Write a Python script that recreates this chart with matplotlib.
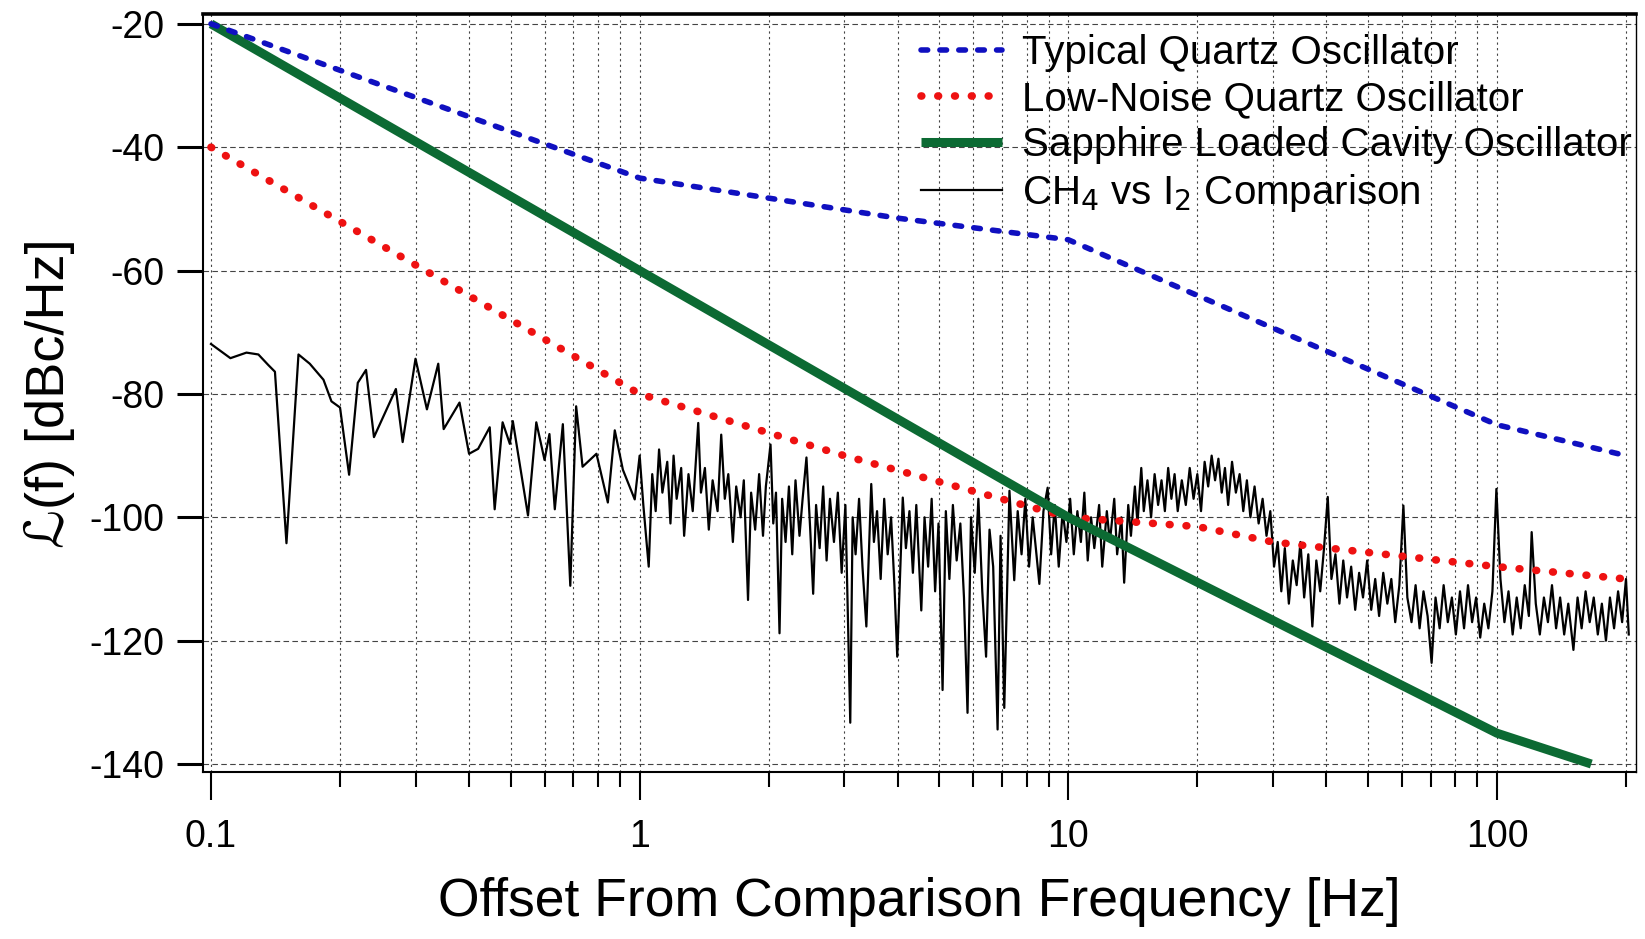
import numpy as np
import matplotlib.pyplot as plt
from matplotlib.ticker import FixedLocator, NullFormatter

plt.rcParams['font.family'] = ['Liberation Sans', 'DejaVu Sans']
plt.rcParams['axes.unicode_minus'] = False

# curvas modelo
f_quartz = [0.1, 1, 4, 10, 100, 200]
L_quartz = [-20, -45, -51.5, -55, -85, -90]
f_lownoise = [0.1, 1, 3, 10, 20, 30, 100, 200]
L_lownoise = [-40, -80, -90, -100, -101.5, -104, -108, -110]
f_sapphire = [0.1, 1, 10, 100, 166]
L_sapphire = [-20, -60, -100, -135, -140]

# CH4 vs I2, 0.1 - 1 Hz
f_ch4_a = [0.100, 0.111, 0.121, 0.129, 0.136, 0.141, 0.150, 0.160, 0.170, 0.183,
           0.191, 0.200, 0.210, 0.220, 0.230, 0.240, 0.270, 0.280, 0.300, 0.319,
           0.339, 0.349, 0.380, 0.400, 0.420, 0.447, 0.459, 0.479, 0.498, 0.506,
           0.549, 0.574, 0.600, 0.616, 0.634, 0.662, 0.689, 0.711, 0.736, 0.793,
           0.843, 0.875, 0.914, 0.974]
L_ch4_a = [-71.9, -74.2, -73.3, -73.6, -75.3, -76.4, -104.2, -73.6, -75.1, -77.7,
           -81.2, -82.2, -93.1, -78.2, -76.1, -87.0, -79.2, -87.8, -74.3, -82.5,
           -75.1, -85.7, -81.4, -89.7, -88.9, -85.4, -98.7, -84.6, -88.1, -84.4,
           -99.7, -84.6, -90.7, -86.5, -98.7, -84.9, -111.1, -82.0, -91.8, -89.7,
           -97.6, -85.9, -92.3, -97.1]

# 1 - 10 Hz
f_ch4_b = [1.00, 1.02, 1.05, 1.07, 1.09, 1.11, 1.13, 1.16, 1.18, 1.20,
           1.22, 1.25, 1.27, 1.30, 1.33, 1.37, 1.39, 1.42, 1.45, 1.48,
           1.52, 1.55, 1.58, 1.61, 1.65, 1.68, 1.72, 1.75, 1.79, 1.82,
           1.86, 1.90, 1.94, 1.97, 2.02, 2.05, 2.08, 2.12, 2.15, 2.19,
           2.23, 2.27, 2.31, 2.36, 2.40, 2.45, 2.50, 2.54, 2.58, 2.63,
           2.68, 2.73, 2.78, 2.84, 2.90, 2.96, 3.02, 3.10, 3.14, 3.19,
           3.25, 3.31, 3.38, 3.47, 3.52, 3.58, 3.65, 3.72, 3.79, 3.86,
           3.93, 3.99, 4.11, 4.18, 4.26, 4.34, 4.42, 4.54, 4.62, 4.71,
           4.80, 4.89, 4.98, 5.09, 5.18, 5.28, 5.38, 5.49, 5.60, 5.71,
           5.82, 5.93, 6.05, 6.17, 6.30, 6.43, 6.55, 6.68, 6.84, 6.95,
           7.09, 7.29, 7.48, 7.62, 7.78, 7.94, 8.10, 8.26, 8.40, 8.56,
           8.75, 8.95, 9.12, 9.30, 9.50, 9.70, 9.90]
L_ch4_b = [-90, -98, -108, -93, -99, -89, -96, -91, -101, -90,
           -97, -92, -103, -93, -99, -84.7, -96, -92, -102, -94,
           -99, -86.6, -97, -93, -104, -95, -100, -94, -113.4, -96,
           -102, -93, -103, -95, -88.2, -101, -96, -118.8, -97, -104,
           -95, -106, -94, -103, -97, -90.3, -102, -112.4, -98, -105,
           -95, -107, -97, -104, -96, -109, -98, -133.3, -100, -106,
           -97, -108, -117.7, -94.6, -104, -99, -110, -97, -106, -100,
           -111, -122.6, -96.8, -105, -99, -109, -98, -115.1, -100, -108,
           -97, -112, -101, -128, -99, -110, -98, -107, -101, -113,
           -131.7, -100, -109, -97, -112, -122.6, -102, -108, -134.4, -103,
           -130.9, -95.7, -110.2, -99, -106, -97, -108, -100, -105, -110.8,
           -99, -95.2, -106, -98, -108, -99, -104]

# 10 - 200 Hz
f_ch4_c = [10.1, 10.3, 10.5, 10.7, 10.9, 11.1, 11.3, 11.5, 11.8, 12.0,
           12.3, 12.5, 12.8, 13.0, 13.3, 13.5, 13.8, 14.0, 14.3, 14.5,
           14.8, 15.0, 15.3, 15.6, 15.9, 16.2, 16.5, 16.8, 17.1, 17.4,
           17.7, 18.0, 18.4, 18.8, 19.2, 19.6, 20.0, 20.4, 20.8, 21.2,
           21.6, 22.0, 22.4, 22.8, 23.2, 23.6, 24.1, 24.6, 25.1, 25.6,
           26.1, 26.6, 27.2, 27.8, 28.4, 29.0, 29.6, 30.2, 30.8, 31.4,
           32.0, 32.7, 33.4, 34.1, 34.8, 35.5, 36.3, 37.1, 37.9, 38.7,
           39.5, 40.3, 41.1, 42.0, 42.9, 43.8, 44.7, 45.7, 46.7, 47.7,
           48.7, 49.8, 50.9, 52.0, 53.1, 54.3, 55.5, 56.7, 57.9, 59.2,
           60.5, 61.8, 63.2, 64.6, 66.0, 67.4, 68.9, 70.4, 71.9, 73.5,
           75.1, 76.8, 78.5, 80.2, 82.0, 83.8, 85.6, 87.5, 89.4, 91.4,
           93.4, 95.5, 97.6, 99.7, 101.9, 104.1, 106.4, 108.8, 111.2, 113.6,
           116.1, 118.7, 120.5, 123.2, 125.9, 128.7, 131.5, 134.4, 137.4, 140.4,
           143.5, 146.7, 150.8, 154.2, 157.6, 161.0, 164.6, 168.2, 171.9, 175.7,
           179.6, 183.5, 187.6, 191.7, 195.9, 200.0, 203.0]
L_ch4_c = [-97, -106, -99, -104, -96, -107, -100, -105, -98, -108,
           -99, -104, -97, -106, -100, -110.6, -98, -103, -95, -101,
           -92, -99, -94, -100, -93, -98, -94, -99, -92, -97,
           -93, -99, -94, -98, -92, -97, -93, -99, -91, -95,
           -90, -94, -90.5, -96, -92, -98, -91, -96, -93, -99,
           -94, -100, -95, -101, -97, -103, -99, -108, -104, -112,
           -105, -114, -107, -111, -104, -113, -106, -117.7, -107, -112,
           -105, -96.7, -110, -106, -114, -107, -113, -108, -115, -109,
           -113, -107, -115, -110, -116, -109, -114, -110, -117, -111,
           -98.1, -113, -117, -111, -118, -112, -116, -123.6, -113, -118,
           -111, -117, -113, -119, -112, -118, -111, -117, -113, -119.5,
           -114, -118, -112, -95.4, -110, -117, -112, -119, -113, -118,
           -111, -116, -102.4, -114, -119, -113, -117, -111, -118, -113,
           -119, -114, -121.5, -113, -118, -112, -117, -113, -119, -114,
           -120, -113, -118, -112, -117, -110, -119]

f_ch4 = f_ch4_a + f_ch4_b + f_ch4_c
L_ch4 = L_ch4_a + L_ch4_b + L_ch4_c

fig = plt.figure(figsize=(16.45, 9.39), dpi=100)
ax = fig.add_axes([0.1234, 0.1778, 0.9945 - 0.1234, 0.9851 - 0.1778])

ax.plot(f_ch4, L_ch4, color='black', lw=1.6, zorder=2,
        label='CH$_4$ vs I$_2$ Comparison')
ax.plot(f_lownoise, L_lownoise, color='#ee1111', lw=5.5, zorder=3,
        linestyle=(0, (0.1, 2.1)), dash_capstyle='round',
        label='Low-Noise Quartz Oscillator')
ax.plot(f_sapphire, L_sapphire, color='#0c6a33', lw=6.5, zorder=4,
        solid_capstyle='butt', label='Sapphire Loaded Cavity Oscillator')
ax.plot(f_quartz, L_quartz, color='#1010c0', lw=4.0, zorder=5,
        linestyle=(0, (1.2, 2.2)), dash_capstyle='round',
        label='Typical Quartz Oscillator')

ax.set_xscale('log')
ax.set_xlim(0.0958, 211)
ax.set_ylim(-141.3, -18.4)

major_x = [0.1, 1, 10, 100]
minor_x = [0.2, 0.3, 0.4, 0.5, 0.6, 0.7, 0.8, 0.9,
           2, 3, 4, 5, 6, 7, 8, 9,
           20, 30, 40, 50, 60, 70, 80, 90, 200]
ax.xaxis.set_major_locator(FixedLocator(major_x))
ax.xaxis.set_minor_locator(FixedLocator(minor_x))
ax.set_xticklabels(['0.1', '1', '10', '100'])
ax.xaxis.set_minor_formatter(NullFormatter())
ax.set_yticks(np.arange(-140, -19, 20))

ax.tick_params(axis='x', which='major', direction='out', length=20, width=1.5,
               labelsize=27, pad=14)
ax.tick_params(axis='x', which='minor', direction='out', length=11, width=1.5)
ax.tick_params(axis='y', which='major', direction='out', length=19, width=2.2,
               labelsize=27, pad=9)

ax.grid(True, axis='x', which='both', color='#444444', lw=0.8,
        linestyle=(0, (2, 3)))
ax.grid(True, axis='y', which='major', color='#444444', lw=0.8,
        linestyle=(0, (5, 3)))
ax.set_axisbelow(True)

ax.spines['top'].set_linewidth(2.6)
ax.spines['left'].set_linewidth(1.5)
ax.spines['bottom'].set_linewidth(1.5)
ax.spines['right'].set_linewidth(1.0)

ax.set_xlabel('Offset From Comparison Frequency [Hz]', fontsize=38.5, labelpad=16)
ax.set_ylabel('ℒ(f) [dBc/Hz]', fontsize=39, labelpad=10)

handles, labels = ax.get_legend_handles_labels()
order = [3, 1, 2, 0]
ax.legend([handles[i] for i in order], [labels[i] for i in order],
          loc='upper right', bbox_to_anchor=(1.0, 0.979), frameon=False,
          fontsize=29, handlelength=2.0, handletextpad=0.5, labelspacing=0.2,
          borderaxespad=0.0, borderpad=0.1)

plt.savefig('out.png', dpi=100)
